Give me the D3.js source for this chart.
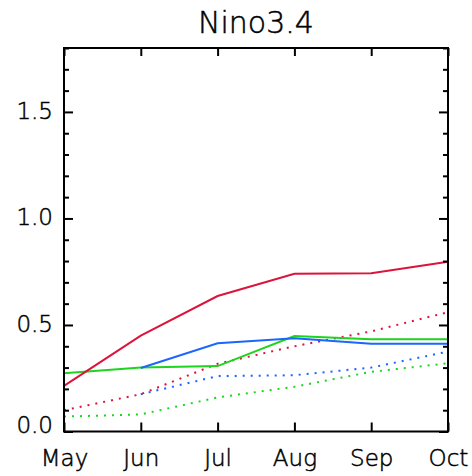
<!DOCTYPE html>
<html>
<head>
<meta charset="utf-8">
<script src="https://cdn.jsdelivr.net/npm/d3@7"></script>
<style>
  html, body { margin: 0; padding: 0; background: #fff; }
  svg { display: block; }
  text { font-family: "DejaVu Sans", sans-serif; font-weight: 200; fill: #000; stroke: #000; stroke-width: 0.5px; }
</style>
</head>
<body>
<script>
// Monthly values, May through October
const months = ["May", "Jun", "Jul", "Aug", "Sep", "Oct"];
const yTicks = [0.0, 0.5, 1.0, 1.5];

// Solid curves (null = no value for that month)
const redSolid   = [0.214, 0.45, 0.636, 0.74, 0.743, 0.797];
const blueSolid  = [null, 0.298, 0.414, 0.438, 0.412, 0.412];
const greenSolid = [0.273, 0.30, 0.307, 0.448, 0.433, 0.433];

// Dotted curves
const redDotted   = [0.10, 0.175, 0.318, 0.40, 0.47, 0.56];
const blueDotted  = [null, 0.175, 0.26, 0.264, 0.30, 0.375];
const greenDotted = [0.07, 0.08, 0.16, 0.21, 0.28, 0.32];

const colors = { red: "#dc143c", blue: "#1a66ff", green: "#1ed41e" };

const W = 472, H = 476;
const mLeft = 64, mRight = 448, mTop = 48, mBottom = 431.5;

const svg = d3.select("body").append("svg")
  .attr("width", W).attr("height", H);

const x = d3.scalePoint().domain(months).range([mLeft, mRight]);
const y = d3.scaleLinear().domain([0, 1.8]).range([mBottom, mTop]);

// Title
svg.append("text")
  .attr("x", (mLeft + mRight) / 2).attr("y", 33)
  .attr("text-anchor", "middle")
  .style("font-size", "30px")
  .text("Nino3.4");

// Data lines
const line = d3.line()
  .defined(d => d.v != null)
  .x(d => x(d.m))
  .y(d => y(d.v));

function series(vals) { return months.map((m, i) => ({ m, v: vals[i] })); }

const plot = svg.append("g");
const seriesDefs = [
  { vals: greenDotted, c: colors.green, dot: true },
  { vals: blueDotted,  c: colors.blue,  dot: true },
  { vals: redDotted,   c: colors.red,   dot: true },
  { vals: greenSolid,  c: colors.green, dot: false },
  { vals: blueSolid,   c: colors.blue,  dot: false },
  { vals: redSolid,    c: colors.red,   dot: false }
];
seriesDefs.forEach(s => {
  plot.append("path")
    .datum(series(s.vals))
    .attr("d", line)
    .attr("fill", "none")
    .attr("stroke", s.c)
    .attr("stroke-width", 2)
    .attr("stroke-dasharray", s.dot ? "2,6" : null);
});

// Frame
svg.append("rect")
  .attr("x", mLeft).attr("y", mTop)
  .attr("width", mRight - mLeft).attr("height", mBottom - mTop)
  .attr("fill", "none").attr("stroke", "#000").attr("stroke-width", 2);

// X axes (bottom with labels, top ticks only)
const xBottom = d3.axisBottom(x).tickSize(-9).tickPadding(20);
const gxb = svg.append("g").attr("transform", `translate(0,${mBottom})`).call(xBottom);
const xTop = d3.axisTop(x).tickSize(-8).tickFormat("");
const gxt = svg.append("g").attr("transform", `translate(0,${mTop})`).call(xTop);

// Y axes: minor ticks every 0.1, major every 0.5
const minor = d3.range(0, 1.81, 0.1).map(v => +v.toFixed(1));
const gyl = svg.append("g").attr("transform", `translate(${mLeft},0)`)
  .call(d3.axisLeft(y).tickValues(minor).tickFormat("").tickSize(0));
const gyr = svg.append("g").attr("transform", `translate(${mRight},0)`)
  .call(d3.axisRight(y).tickValues(minor).tickFormat("").tickSize(0));

[gxb, gxt, gyl, gyr].forEach(g => {
  g.select(".domain").remove();
  g.selectAll("line").attr("stroke", "#000").attr("stroke-width", 2);
});

const isMajor = v => Math.abs(v * 2 - Math.round(v * 2)) < 1e-6;
gyl.selectAll(".tick line").attr("x2", d => isMajor(d) ? 9 : 5);
gyr.selectAll(".tick line").attr("x2", d => isMajor(d) ? -9 : -5);

gxb.selectAll(".tick text")
  .attr("dy", null)
  .attr("y", 34)
  .style("font-size", "23px")
  .style("font-family", "\"DejaVu Sans\", sans-serif")
  .attr("fill", "#000");

// Y tick labels
svg.append("g").selectAll("text")
  .data(yTicks)
  .join("text")
  .attr("x", 53)
  .attr("y", d => Math.min(y(d) + 7, mBottom + 1))
  .attr("text-anchor", "end")
  .style("font-size", "23px")
  .text(d => d.toFixed(1));
</script>
</body>
</html>
